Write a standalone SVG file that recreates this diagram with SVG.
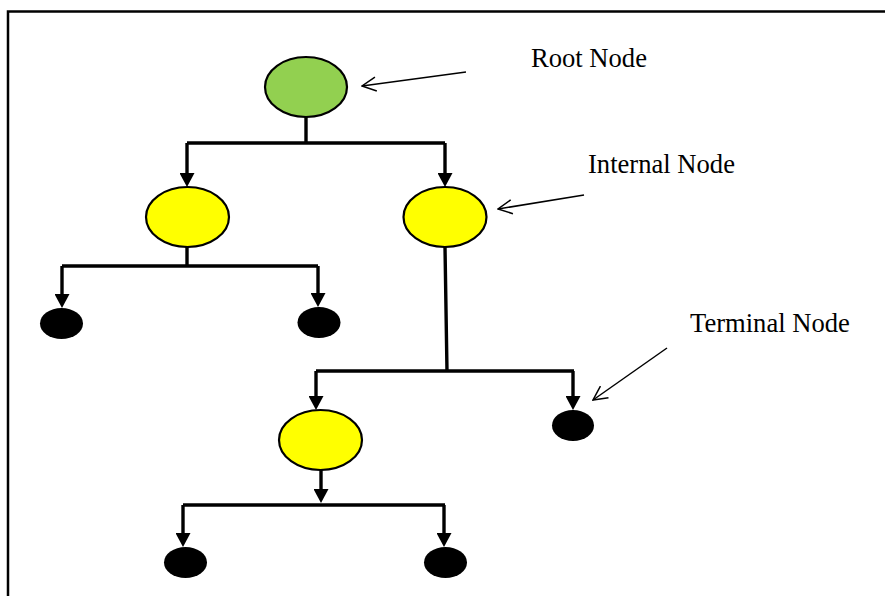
<svg xmlns="http://www.w3.org/2000/svg" width="885" height="596" viewBox="0 0 885 596">
<style>
.frame{fill:none;stroke:#000;stroke-width:2.5}
.root{fill:#92D050;stroke:#000;stroke-width:2.2}
.internal{fill:#FFFF00;stroke:#000;stroke-width:2.2}
.leaf{fill:#000;stroke:none}
.edge{fill:none;stroke:#000;stroke-width:3.4}
.ptr{fill:none;stroke:#000;stroke-width:1.5}
.lbl{font-family:"Liberation Serif","Times New Roman",serif;font-size:26.6px;fill:#000}
</style>
<defs>
<marker id="tri" viewBox="0 0 14 15" refX="0" refY="7.5" markerWidth="14" markerHeight="15" markerUnits="userSpaceOnUse" orient="auto">
<path d="M0,0 L14,7.5 L0,15 z" fill="#000"/>
</marker>
<marker id="open" viewBox="0 0 16 16" refX="15" refY="8" markerWidth="16" markerHeight="16" markerUnits="userSpaceOnUse" orient="auto">
<path d="M1,1 L15,8 L1,15" fill="none" stroke="#000" stroke-width="1.5"/>
</marker>
</defs>
<rect class="frame" x="8" y="11.5" width="900" height="600"/>
<g id="connectors">
<path class="edge" d="M306,117 V143 M187,143 H445"/>
<path class="edge" d="M187,143 V173" marker-end="url(#tri)"/>
<path class="edge" d="M445,143 V173" marker-end="url(#tri)"/>
<path class="edge" d="M187,247 V266 M62,266 H318"/>
<path class="edge" d="M62,266 V294" marker-end="url(#tri)"/>
<path class="edge" d="M318,266 V293" marker-end="url(#tri)"/>
<path class="edge" d="M445,247 L447,371 M316,371 H574"/>
<path class="edge" d="M316,371 V396" marker-end="url(#tri)"/>
<path class="edge" d="M573,371 V396" marker-end="url(#tri)"/>
<path class="edge" d="M321,470 V489" marker-end="url(#tri)"/>
<path class="edge" d="M183,505 H445"/>
<path class="edge" d="M183,505 V533" marker-end="url(#tri)"/>
<path class="edge" d="M444,505 V533" marker-end="url(#tri)"/>
<path class="ptr" d="M466,72 L362,86" marker-end="url(#open)"/>
<path class="ptr" d="M584,195 L498,209" marker-end="url(#open)"/>
<path class="ptr" d="M667,348 L593,400" marker-end="url(#open)"/>
</g>
<g id="root"><ellipse class="root" cx="306" cy="87" rx="41" ry="30"/></g>
<g id="internal-left"><ellipse class="internal" cx="187.5" cy="217" rx="41.5" ry="30"/></g>
<g id="internal-right"><ellipse class="internal" cx="445" cy="217" rx="41.5" ry="30"/></g>
<g id="internal-bottom"><ellipse class="internal" cx="320.5" cy="440" rx="41.5" ry="30"/></g>
<g id="leaf-1"><ellipse class="leaf" cx="61.5" cy="323.5" rx="21.5" ry="15.5"/></g>
<g id="leaf-2"><ellipse class="leaf" cx="319" cy="322.5" rx="21.5" ry="15.5"/></g>
<g id="leaf-3"><ellipse class="leaf" cx="573" cy="425.5" rx="21" ry="15.5"/></g>
<g id="leaf-4"><ellipse class="leaf" cx="185.5" cy="562.5" rx="21.5" ry="15.5"/></g>
<g id="leaf-5"><ellipse class="leaf" cx="445.5" cy="562.5" rx="21.5" ry="15.5"/></g>
<g id="labels">
<text class="lbl" x="531" y="67">Root Node</text>
<text class="lbl" x="588" y="173">Internal Node</text>
<text class="lbl" x="690" y="332">Terminal Node</text>
</g>
</svg>
